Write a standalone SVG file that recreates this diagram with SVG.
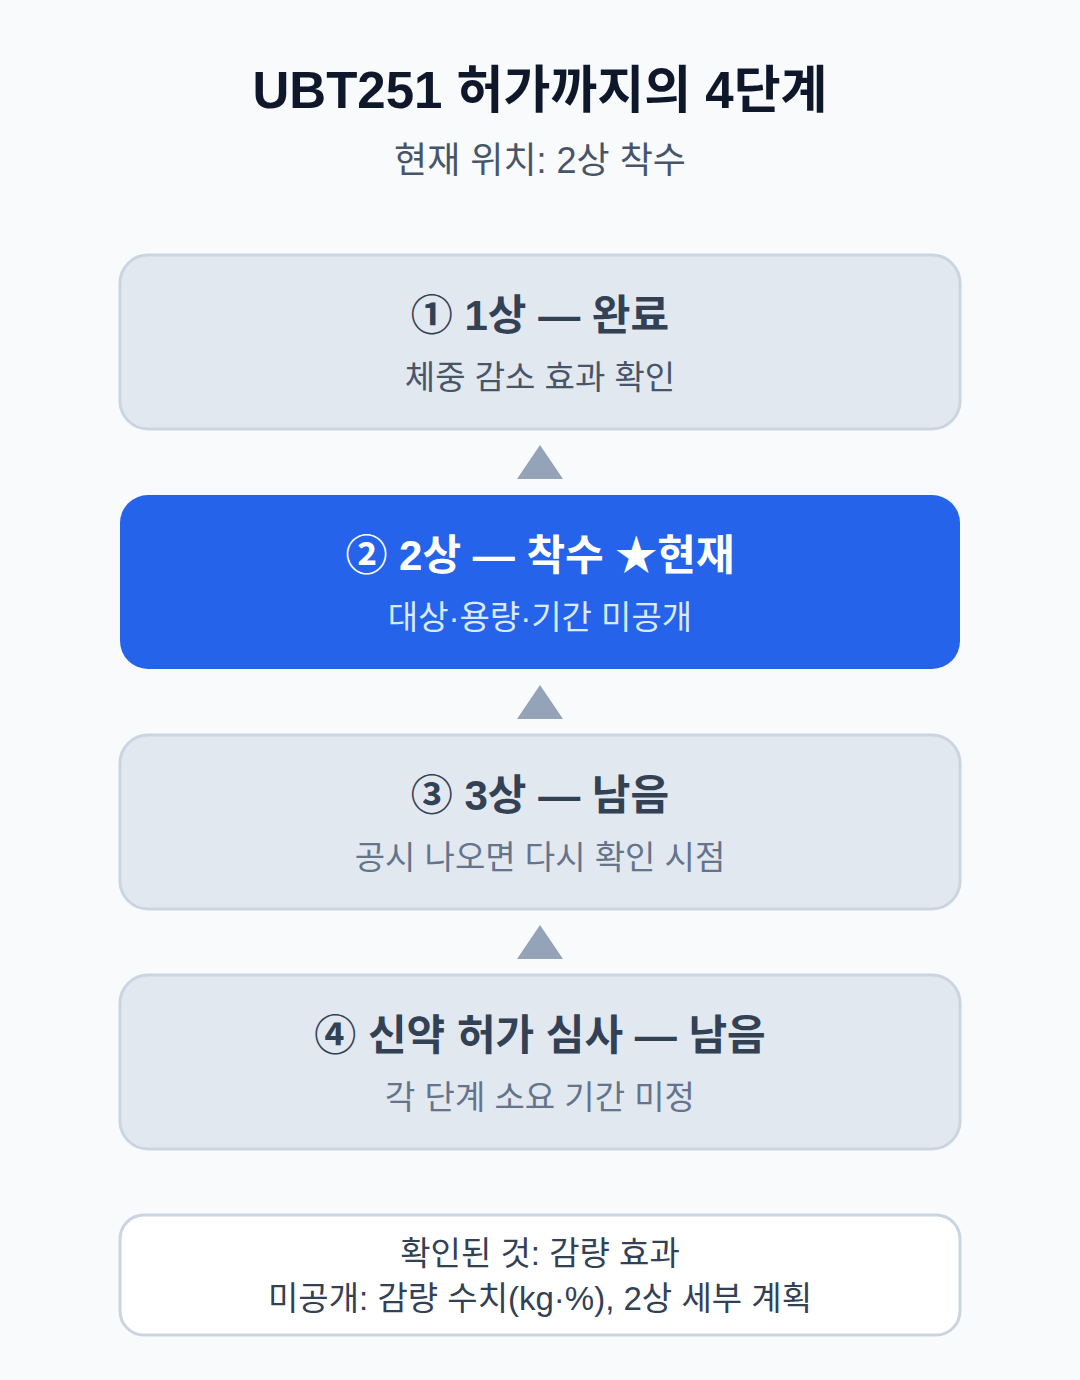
<svg xmlns="http://www.w3.org/2000/svg" width="1080" height="1380" viewBox="0 0 1080 1380">
<style>
text{font-family:"Liberation Sans","Noto Sans CJK KR",sans-serif;text-anchor:middle}
.title{font-size:51px;font-weight:700;fill:#0f172a}
.sub{font-size:36px;fill:#475569}
.box{fill:#e2e8f0;stroke:#cbd5e1;stroke-width:3}
.cur{fill:#2563eb}
.bt{font-size:42px;font-weight:700;fill:#334155}
.bs{font-size:33px;fill:#64748b}
.bs1{font-size:33px;fill:#475569}
.wt{font-size:42px;font-weight:700;fill:#ffffff}
.ws{font-size:33px;fill:#dbeafe}
.arr{fill:#94a3b8}
.note{fill:#ffffff;stroke:#cbd5e1;stroke-width:3}
.nt{font-size:33px;fill:#334155}
</style>
<rect width="1080" height="1380" fill="#f8fafc"/>
<text class="title" x="540" y="108">UBT251 허가까지의 4단계</text>
<text class="sub" x="540" y="173">현재 위치: 2상 착수</text>
<g id="connectors">
<polygon class="arr" points="517,479 563,479 540,445"/>
<polygon class="arr" points="517,719 563,719 540,685"/>
<polygon class="arr" points="517,959 563,959 540,925"/>
</g>
<g id="step1">
<rect class="box" x="120" y="255" width="840" height="174" rx="28"/>
<text class="bt" x="540" y="330">① 1상 — 완료</text>
<text class="bs1" x="540" y="389">체중 감소 효과 확인</text>
</g>
<g id="step2">
<rect class="cur" x="120" y="495" width="840" height="174" rx="28"/>
<text class="wt" x="540" y="570">② 2상 — 착수 ★현재</text>
<text class="ws" x="540" y="629">대상·용량·기간 미공개</text>
</g>
<g id="step3">
<rect class="box" x="120" y="735" width="840" height="174" rx="28"/>
<text class="bt" x="540" y="810">③ 3상 — 남음</text>
<text class="bs" x="540" y="869">공시 나오면 다시 확인 시점</text>
</g>
<g id="step4">
<rect class="box" x="120" y="975" width="840" height="174" rx="28"/>
<text class="bt" x="540" y="1050">④ 신약 허가 심사 — 남음</text>
<text class="bs" x="540" y="1109">각 단계 소요 기간 미정</text>
</g>
<g id="note">
<rect class="note" x="120" y="1215" width="840" height="120" rx="24"/>
<text class="nt" x="540" y="1265">확인된 것: 감량 효과</text>
<text class="nt" x="540" y="1310">미공개: 감량 수치(kg·%), 2상 세부 계획</text>
</g>
</svg>
